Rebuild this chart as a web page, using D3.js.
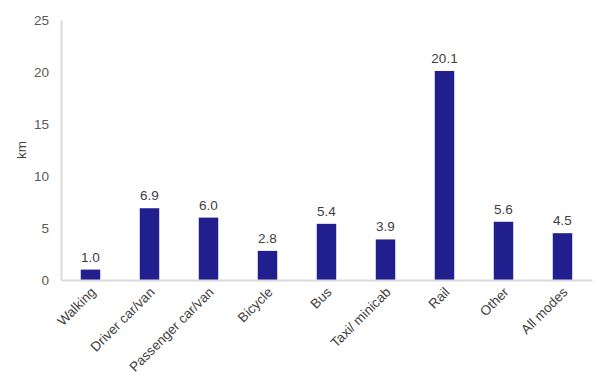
<!DOCTYPE html>
<html>
<head>
<meta charset="utf-8">
<script src="https://cdn.jsdelivr.net/npm/d3@7"></script>
<style>
  body { margin: 0; background: #fff; }
  svg text { font-family: "Liberation Sans", Arial, sans-serif; }
</style>
</head>
<body>
<svg id="chart" width="599" height="386"></svg>
<script>
const modes = ["Walking", "Driver car/van", "Passenger car/van", "Bicycle", "Bus", "Taxi/ minicab", "Rail", "Other", "All modes"];
const distances = [1.0, 6.9, 6.0, 2.8, 5.4, 3.9, 20.1, 5.6, 4.5];
const yTicks = [0, 5, 10, 15, 20, 25];

const svg = d3.select("#chart");
const plotLeft = 61, plotRight = 592, plotTop = 20, plotBottom = 280;

const x = d3.scaleBand().domain(modes).range([plotLeft, plotRight]).paddingInner(0.67).paddingOuter(0.335);
const y = d3.scaleLinear().domain([0, 25]).range([plotBottom, plotTop]);

// y axis
const yAxis = svg.append("g").attr("transform", `translate(${plotLeft},0)`)
  .call(d3.axisLeft(y).tickValues(yTicks).tickSize(0).tickPadding(12));
yAxis.select(".domain").attr("stroke", "#d9d9d9").attr("stroke-width", 2);
yAxis.selectAll("text").attr("font-size", 13.5).attr("fill", "#595959");

// bars
svg.selectAll(".bar")
  .data(distances)
  .enter()
  .append("rect")
  .classed("bar", true)
  .attr("x", (d, i) => x(modes[i]))
  .attr("y", d => y(d))
  .attr("width", x.bandwidth())
  .attr("height", d => y(0) - y(d))
  .attr("fill", "#211e8e");

// value labels
svg.selectAll(".val")
  .data(distances)
  .enter()
  .append("text")
  .attr("x", (d, i) => x(modes[i]) + x.bandwidth() / 2)
  .attr("y", d => y(d) - 8)
  .attr("text-anchor", "middle")
  .attr("font-size", 13.5)
  .attr("fill", "#404040")
  .text(d => d.toFixed(1));

// x axis
const xAxis = svg.append("g").attr("transform", `translate(0,${plotBottom})`)
  .call(d3.axisBottom(x).tickSize(0).tickPadding(0));
xAxis.select(".domain").attr("stroke", "#d9d9d9").attr("stroke-width", 2);
xAxis.selectAll("text")
  .attr("font-size", 13.5)
  .attr("fill", "#404040")
  .attr("text-anchor", "end")
  .attr("dy", 0)
  .attr("transform", "translate(6,13) rotate(-45)");

// y label
svg.append("text")
  .attr("transform", "translate(26,150) rotate(-90)")
  .attr("text-anchor", "middle")
  .attr("font-size", 13.5)
  .attr("fill", "#404040")
  .text("km");
</script>
</body>
</html>
